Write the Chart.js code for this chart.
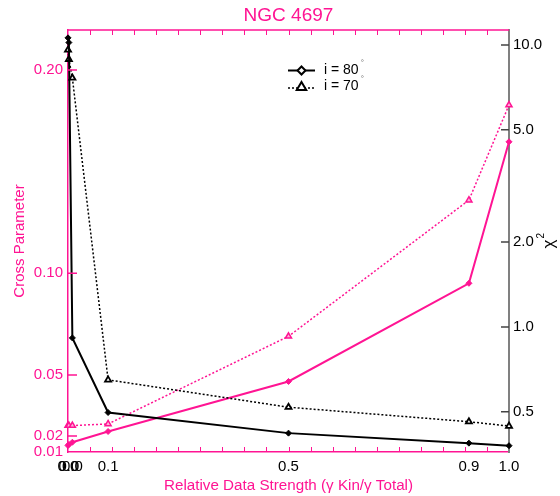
<!DOCTYPE html>
<html>
<head>
<meta charset="utf-8">
<script src="https://cdn.jsdelivr.net/npm/chart.js@4.4.0/dist/chart.umd.min.js"></script>
<style>
  html, body { margin: 0; padding: 0; background: #fff; }
  #c { display: block; }
</style>
</head>
<body>
<canvas id="c" width="560" height="496"></canvas>
<script>
// Relative data strength (gamma Kin / gamma Total) for each model run
const strength = [0, 0.002, 0.0099, 0.0909, 0.5, 0.9091, 1.0];
// Reduced chi-squared, right axis (log)
const chi2Incl80 = [10.6, 10.2, 0.914, 0.497, 0.42, 0.387, 0.379];
const chi2Incl70 = [9.6, 8.9, 7.64, 0.649, 0.519, 0.461, 0.445];
// Cross parameter, left axis
const crossIncl80 = [0.0153, 0.0158, 0.0169, 0.0222, 0.0468, 0.0951, 0.1647];
const crossIncl70 = [0.0251, 0.0251, 0.0251, 0.0259, 0.069, 0.136, 0.1828];
// Axis ticks
const crossTicks = [0.0121, 0.02, 0.05, 0.10, 0.20];
const chi2Ticks = [0.5, 1, 2, 5, 10];
const legendLabels = ['i = 80', 'i = 70'];
const chartTitle = 'NGC 4697';

const PINK = '#ff1493';
const FONT = 'Liberation Sans, Arial, Helvetica, sans-serif';
Chart.defaults.font.family = FONT;

const pts = (ys) => strength.map((x, i) => ({ x: x, y: ys[i] }));

function diamond(ctx, x, y, r) {
  ctx.beginPath();
  ctx.moveTo(x, y - r); ctx.lineTo(x + r, y); ctx.lineTo(x, y + r); ctx.lineTo(x - r, y);
  ctx.closePath();
}
function triangle(ctx, x, y, r) {
  ctx.beginPath();
  ctx.moveTo(x, y - r); ctx.lineTo(x + r * 0.95, y + r * 0.6); ctx.lineTo(x - r * 0.95, y + r * 0.6);
  ctx.closePath();
}

// Frame decorations: title, top border, inward tick marks, right-axis title, legend
const framePlugin = {
  id: 'frame',
  afterDraw(chart) {
    const ctx = chart.ctx;
    const ca = chart.chartArea;
    const xs = chart.scales.x, yl = chart.scales.y, yr = chart.scales.y2;
    ctx.save();
    // title centred over the plot
    ctx.fillStyle = PINK;
    ctx.font = '19px ' + FONT;
    ctx.textAlign = 'center'; ctx.textBaseline = 'middle';
    ctx.fillText(chartTitle, (ca.left + ca.right) / 2, 16);
    // top border
    ctx.strokeStyle = PINK; ctx.lineWidth = 1.5;
    ctx.beginPath(); ctx.moveTo(ca.left, ca.top); ctx.lineTo(ca.right, ca.top); ctx.stroke();
    // x ticks, top and bottom
    ctx.lineWidth = 1;
    ctx.beginPath();
    for (let k = 1; k < 20; k++) {
      const px = Math.round(xs.getPixelForValue(k * 0.05)) + 0.5;
      ctx.moveTo(px, ca.bottom); ctx.lineTo(px, ca.bottom - 5);
      ctx.moveTo(px, ca.top); ctx.lineTo(px, ca.top + 5);
    }
    ctx.stroke();
    // left ticks
    ctx.lineWidth = 1.5;
    ctx.beginPath();
    crossTicks.slice(1).forEach(v => {
      const py = yl.getPixelForValue(v);
      ctx.moveTo(ca.left, py); ctx.lineTo(ca.left + 9, py);
    });
    ctx.stroke();
    // right ticks
    ctx.strokeStyle = '#444';
    ctx.beginPath();
    chi2Ticks.forEach(v => {
      const py = yr.getPixelForValue(v);
      ctx.moveTo(ca.right, py); ctx.lineTo(ca.right - 8, py);
    });
    ctx.stroke();

    // right axis title: chi^2, reading upwards
    ctx.fillStyle = '#000';
    ctx.translate(548, (ca.top + ca.bottom) / 2);
    ctx.rotate(-Math.PI / 2);
    ctx.font = '17px ' + FONT;
    ctx.textBaseline = 'middle';
    ctx.textAlign = 'left';
    const w = ctx.measureText('\u03c7').width;
    ctx.fillText('\u03c7', -w / 2 - 3, 1);
    ctx.font = '10px ' + FONT;
    ctx.fillText('2', w / 2 - 2, -7);
    ctx.restore();

    // legend
    ctx.save();
    const lx0 = 288, lx1 = 315, mx = 301.5;
    const rows = [{ y: 70.5, dash: [], lw: 2, mark: 'd' }, { y: 88, dash: [2, 2], lw: 1.5, mark: 't' }];
    rows.forEach((r, i) => {
      ctx.strokeStyle = '#000'; ctx.lineWidth = r.lw; ctx.setLineDash(r.dash);
      ctx.beginPath(); ctx.moveTo(lx0, r.y); ctx.lineTo(lx1, r.y); ctx.stroke();
      ctx.setLineDash([]);
      ctx.lineWidth = 2; ctx.fillStyle = '#fff';
      if (r.mark === 'd') diamond(ctx, mx, r.y, 4); else triangle(ctx, mx, r.y - 1, 5);
      ctx.fill(); ctx.stroke();
      ctx.fillStyle = '#000';
      ctx.font = '14px ' + FONT;
      ctx.textBaseline = 'middle'; ctx.textAlign = 'left';
      const ty = r.y - (i === 0 ? 0.5 : 2);
      ctx.fillText(legendLabels[i], 324, ty);
      const tw = ctx.measureText(legendLabels[i]).width;
      ctx.fillStyle = '#666';
      ctx.font = '8px ' + FONT;
      ctx.fillText('\u00b0', 324 + tw + 2, ty - 7);
    });
    ctx.restore();
  }
};

new Chart(document.getElementById('c'), {
  type: 'line',
  data: {
    datasets: [
      { label: 'chi2 i=80', data: pts(chi2Incl80), yAxisID: 'y2',
        borderColor: '#000', backgroundColor: '#000', borderWidth: 2,
        pointStyle: 'rectRot', pointRadius: 3, pointBorderWidth: 1, clip: false },
      { label: 'chi2 i=70', data: pts(chi2Incl70), yAxisID: 'y2',
        borderColor: '#000', backgroundColor: '#fff', borderWidth: 1.5, borderDash: [2, 2],
        pointStyle: 'triangle', pointRadius: 3.5, pointBorderWidth: 1.8, clip: false },
      { label: 'cross i=80', data: pts(crossIncl80), yAxisID: 'y',
        borderColor: PINK, backgroundColor: PINK, borderWidth: 2,
        pointStyle: 'rectRot', pointRadius: 3, pointBorderWidth: 1, clip: false },
      { label: 'cross i=70', data: pts(crossIncl70), yAxisID: 'y',
        borderColor: PINK, backgroundColor: '#ffb3da', borderWidth: 1.5, borderDash: [2, 2],
        pointStyle: 'triangle', pointRadius: 3.5, pointBorderWidth: 1.5, clip: false }
    ]
  },
  options: {
    responsive: false,
    animation: false,
    devicePixelRatio: 1,
    layout: { padding: { top: 30, left: 0, right: 0, bottom: 0 } },
    plugins: {
      legend: { display: false },
      tooltip: { enabled: false },
      title: { display: false }
    },
    scales: {
      x: {
        type: 'linear', position: 'bottom', min: 0, max: 1,
        afterBuildTicks: s => { s.ticks = strength.map(v => ({ value: v })); },
        afterFit: s => { s.height = 44; },
        ticks: { autoSkip: false, maxRotation: 0, color: '#000', font: { size: 15 }, padding: 6,
                 callback: v => Number(v).toFixed(1) },
        grid: { display: false, drawTicks: false },
        border: { display: true, color: PINK, width: 1.5 },
        title: { display: true, text: 'Relative Data Strength (\u03b3 Kin/\u03b3 Total)', color: PINK,
                 font: { size: 15.2 }, padding: { top: 0, bottom: 1 } }
      },
      y: {
        type: 'linear', position: 'left', min: 0.0121, max: 0.2197,
        afterBuildTicks: s => { s.ticks = crossTicks.map(v => ({ value: v })); },
        afterFit: s => { s.width = 68; },
        ticks: { color: PINK, font: { size: 15 }, padding: 5, callback: v => Number(v).toFixed(2) },
        grid: { display: false, drawTicks: false },
        border: { display: true, color: PINK, width: 1.5 },
        title: { display: true, text: 'Cross Parameter', color: PINK, font: { size: 15 },
                 padding: { top: 11, bottom: 0 } }
      },
      y2: {
        type: 'logarithmic', position: 'right', min: 0.36, max: 11.3,
        afterBuildTicks: s => { s.ticks = chi2Ticks.map(v => ({ value: v })); },
        afterFit: s => { s.width = 51; },
        ticks: { color: '#000', font: { size: 15 }, padding: 4, callback: v => Number(v).toFixed(1) },
        grid: { display: false, drawTicks: false },
        border: { display: true, color: '#808080', width: 2 }
      }
    }
  },
  plugins: [framePlugin]
});
</script>
</body>
</html>
